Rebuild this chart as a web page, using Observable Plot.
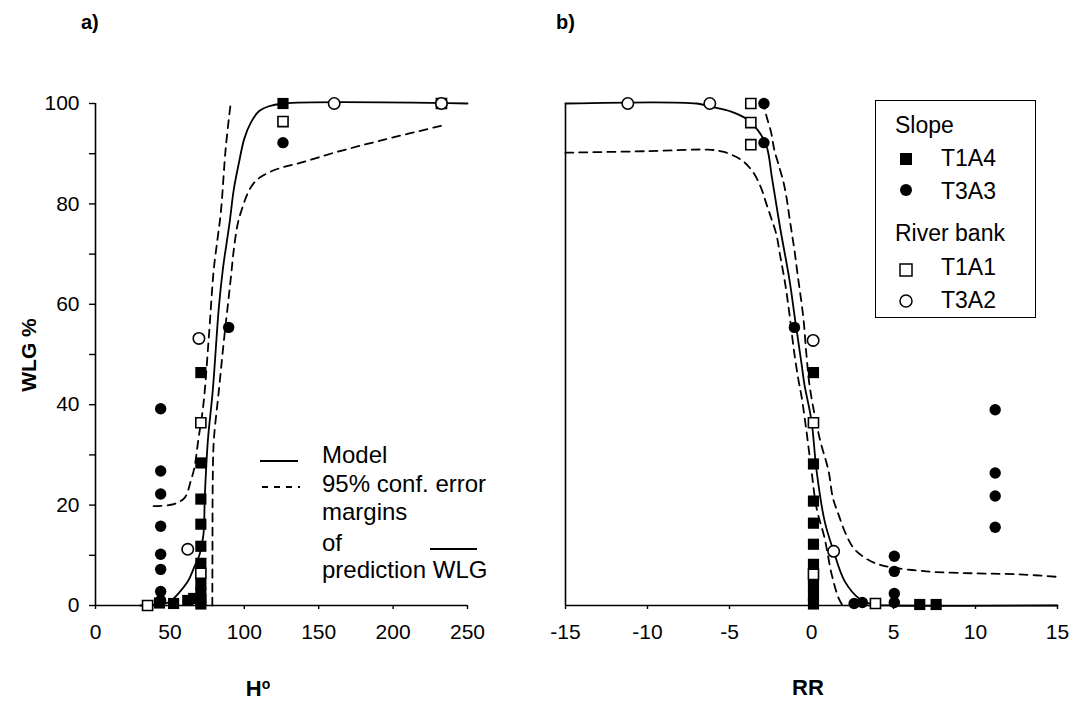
<!DOCTYPE html>
<html><head><meta charset="utf-8">
<script src="https://cdn.jsdelivr.net/npm/d3@7"></script>
<script src="https://cdn.jsdelivr.net/npm/@observablehq/plot@0.6"></script>
<style>
body{margin:0;background:#fff;font-family:Arial,"Liberation Sans",sans-serif;color:#000;}
#wrap{position:relative;width:1087px;height:703px;overflow:hidden;background:#fff;}
.pl{position:absolute;top:0;}
.t{position:absolute;white-space:nowrap;line-height:1;}
.b{font-weight:bold;}
.lg{font-size:23px;}
#boxB{position:absolute;left:875px;top:100px;width:161px;height:218px;border:1.5px solid #000;box-sizing:border-box;}
svg.mk{position:absolute;overflow:visible;}
</style>
</head><body>
<div id="wrap"></div>
<script>
// ---------- Panel a) : H° vs WLG % ----------
const xTicksA = [0, 50, 100, 150, 200, 250];
const yMajor = [0, 20, 40, 60, 80, 100];
const yMinor = [10, 30, 50, 70, 90];
const xTicksB = [-15, -10, -5, 0, 5, 10, 15];

// model curve
const modelA_H = [30, 45, 50, 62, 66, 70, 72.5, 73.5, 75.5, 78.8, 82.9, 85.6, 88, 90, 93, 96.4, 100, 104.4, 110, 116, 126, 250];
const modelA_W = [0, 0.3, 0.8, 4.8, 7.4, 10.2, 14, 22, 32.8, 42.8, 59.4, 67, 72, 76, 83, 88.2, 93, 96.2, 98.5, 99.4, 100, 100];
// upper 95% margin
const upA_H = [39, 52.6, 60, 64, 66.5, 69, 72.5, 76, 79.5, 82, 84.2, 87.6, 91];
const upA_W = [19.8, 20.2, 21.5, 24.8, 27.5, 32.8, 40, 52.8, 67, 73, 78.2, 91.4, 100.4];
// lower 95% margin
const loA_H = [78.5, 78.6, 78.8, 79.5, 82.9, 86.3, 89, 91, 93, 95.7, 99, 102.4, 106, 111.2, 122.6, 138, 160.4, 194, 233];
const loA_W = [0, 10, 24.8, 32.8, 42.8, 52.8, 60, 65.4, 71, 76.2, 79.5, 82.2, 84, 85.4, 87, 88.2, 90.2, 92.8, 95.6];

// points panel a
const aT1A4_H = [70.8, 70.8, 70.8, 70.8, 70.8, 70.8, 70.8, 70.8, 70.8, 70.8, 43, 52.5, 62, 66, 126];
const aT1A4_W = [46.4, 28.4, 21.2, 16.2, 11.8, 8.4, 4.2, 2.5, 1.2, 0.3, 0.5, 0.4, 1, 1.4, 100];
const aT3A3_H = [43.8, 43.8, 43.8, 43.8, 43.8, 43.8, 43.8, 43.8, 89.5, 126];
const aT3A3_W = [39.2, 26.8, 22.2, 15.8, 10.2, 7.2, 2.8, 1.0, 55.4, 92.2];
const aT1A1_H = [35, 70.8, 70.8, 126, 232.5];
const aT1A1_W = [0, 36.4, 6.4, 96.4, 100];
const aT3A2_H = [62, 69.5, 160.4, 232.5];
const aT3A2_W = [11.2, 53.2, 100, 100];

// ---------- Panel b) : RR vs WLG % ----------
const modelB_R = [-15, -7, -6.2, -4.9, -4.1, -3.3, -2.75, -2.4, -1.9, -1.35, -0.98, -0.6, -0.43, 0, 0.31, 0.8, 1.35, 2.03, 2.9, 3.7, 5, 15];
const modelB_W = [100, 100, 99.4, 98.4, 97.2, 94.8, 91.6, 85, 75, 65, 56.5, 48, 44, 36.8, 26.8, 16.8, 10.8, 4.8, 1.4, 0.2, 0, 0];
const loB_R = [-15, -10, -6.3, -5.4, -4.3, -3.6, -3.1, -2.77, -2.46, -2.15, -1.9, -1.6, -1.35, -1.07, -0.8, -0.6, -0.31, 0, 0.31, 0.8, 1.23, 1.66, 1.9];
const loB_W = [90.2, 90.5, 90.8, 90.4, 88.8, 86.5, 83.4, 80.2, 77.2, 74, 69.5, 64, 58.2, 50.8, 45, 41.5, 34.8, 26.8, 19.4, 13.4, 6.2, 1.4, 0];
const upB_R = [-2.95, -2.77, -2.46, -2.27, -1.97, -1.7, -1.5, -1.35, -1.2, -1.04, -0.85, -0.5, -0.31, -0.1, 0.49, 1.04, 1.3, 1.66, 2.1, 2.6, 3.4, 4.3, 7, 10, 12.7, 15];
const upB_W = [100.5, 97.8, 94.2, 90.8, 87.4, 84.2, 80.8, 77.4, 74.2, 70.8, 66, 57.4, 50, 43.4, 33.4, 26.8, 21.5, 18, 14.2, 11.3, 9.2, 8, 6.8, 6.4, 6.2, 5.7];

const bT1A4_R = [0.12, 0.12, 0.12, 0.12, 0.12, 0.12, 0.12, 0.12, 0.12, 6.6, 7.6];
const bT1A4_W = [46.4, 28.2, 20.8, 16.4, 12.2, 8.2, 4, 2, 0.3, 0.2, 0.2];
const bT3A3_R = [-2.9, -2.9, -1.04, 11.2, 11.2, 11.2, 11.2, 5.05, 5.05, 5.05, 5.05, 2.6, 3.1];
const bT3A3_W = [100, 92.2, 55.4, 39, 26.4, 21.8, 15.6, 9.8, 6.8, 2.4, 0.6, 0.4, 0.6];
const bT1A1_R = [-3.7, -3.7, -3.7, 0.12, 0.12, 3.9];
const bT1A1_W = [100, 96.2, 91.8, 36.4, 6.2, 0.4];
const bT3A2_R = [-11.2, -6.2, 0.1, 1.35];
const bT3A2_W = [100, 100, 52.8, 10.8];

const pts = (xs, ys) => xs.map((x, i) => ({x, y: ys[i]}));
const FONT = "Arial, 'Liberation Sans', sans-serif";
const dash = "8,6";
const SW = 1.8;

function markers(sets) {
  return [
    Plot.dot(pts(...sets.fsq), {x: "x", y: "y", symbol: "square", r: 6.3, fill: "#000"}),
    Plot.dot(pts(...sets.fci), {x: "x", y: "y", symbol: "circle", r: 5.7, fill: "#000"}),
    Plot.dot(pts(...sets.osq), {x: "x", y: "y", symbol: "square", r: 5.7, fill: "#fff", stroke: "#000", strokeWidth: 1.6}),
    Plot.dot(pts(...sets.oci), {x: "x", y: "y", symbol: "circle", r: 5.7, fill: "#fff", stroke: "#000", strokeWidth: 1.6})
  ];
}

const plotA = Plot.plot({
  width: 520, height: 703,
  marginLeft: 95, marginRight: 53, marginTop: 103, marginBottom: 98,
  x: {domain: [0, 250]},
  y: {domain: [0, 100]},
  style: {fontFamily: FONT, fontSize: "21px", color: "#000", background: "transparent", overflow: "visible"},
  marks: [
    Plot.axisX({ticks: xTicksA, tickSize: 4, tickPadding: 15, label: null, tickFormat: d => String(d), strokeWidth: 1.4}),
    Plot.axisY({ticks: yMajor, tickSize: 6, tickPadding: 10, label: null, tickFormat: d => String(d), strokeWidth: 1.4}),
    Plot.axisY({ticks: yMinor, tickSize: 6, label: null, tickFormat: () => "", strokeWidth: 1.4}),
    Plot.ruleX([0], {strokeWidth: 1.6}),
    Plot.ruleY([0], {strokeWidth: 1.6}),
    Plot.line(pts(upA_H, upA_W), {x: "x", y: "y", stroke: "#000", strokeWidth: SW, strokeDasharray: dash, curve: "catmull-rom"}),
    Plot.line(pts(loA_H, loA_W), {x: "x", y: "y", stroke: "#000", strokeWidth: SW, strokeDasharray: dash, curve: "catmull-rom"}),
    Plot.line(pts(modelA_H, modelA_W), {x: "x", y: "y", stroke: "#000", strokeWidth: SW, curve: "catmull-rom"}),
    ...markers({fsq: [aT1A4_H, aT1A4_W], fci: [aT3A3_H, aT3A3_W], osq: [aT1A1_H, aT1A1_W], oci: [aT3A2_H, aT3A2_W]})
  ]
});

const plotB = Plot.plot({
  width: 567, height: 703,
  marginLeft: 45, marginRight: 30, marginTop: 103, marginBottom: 98,
  x: {domain: [-15, 15]},
  y: {domain: [0, 100], axis: null},
  style: {fontFamily: FONT, fontSize: "21px", color: "#000", background: "transparent", overflow: "visible"},
  marks: [
    Plot.axisX({ticks: xTicksB, tickSize: 4, tickPadding: 15, label: null, tickFormat: d => String(d), strokeWidth: 1.4}),
    Plot.ruleX([-15], {strokeWidth: 1.6}),
    Plot.ruleY([0], {strokeWidth: 1.6}),
    Plot.line(pts(loB_R, loB_W), {x: "x", y: "y", stroke: "#000", strokeWidth: SW, strokeDasharray: dash, curve: "catmull-rom"}),
    Plot.line(pts(upB_R, upB_W), {x: "x", y: "y", stroke: "#000", strokeWidth: SW, strokeDasharray: dash, curve: "catmull-rom"}),
    Plot.line(pts(modelB_R, modelB_W), {x: "x", y: "y", stroke: "#000", strokeWidth: SW, curve: "catmull-rom"}),
    ...markers({fsq: [bT1A4_R, bT1A4_W], fci: [bT3A3_R, bT3A3_W], osq: [bT1A1_R, bT1A1_W], oci: [bT3A2_R, bT3A2_W]})
  ]
});

const wrap = document.getElementById("wrap");
const dA = document.createElement("div"); dA.className = "pl"; dA.style.left = "0px"; dA.appendChild(plotA); wrap.appendChild(dA);
const dB = document.createElement("div"); dB.className = "pl"; dB.style.left = "520px"; dB.appendChild(plotB); wrap.appendChild(dB);

function txt(s, left, top, cls, extra) {
  const e = document.createElement("div");
  e.className = "t " + (cls || "");
  e.style.left = left + "px"; e.style.top = top + "px";
  if (extra) Object.assign(e.style, extra);
  e.innerHTML = s;
  wrap.appendChild(e);
  return e;
}
// panel labels & axis titles
txt("a)", 81, 12, "b", {fontSize: "20px"});
txt("b)", 556, 12, "b", {fontSize: "20px"});
txt("WLG %", 28, 355, "b", {fontSize: "21px", transform: "translate(-50%,-50%) rotate(-90deg)"});
txt("H<sup style='font-size:14px;vertical-align:7px'>o</sup>", 258, 688, "b", {fontSize: "22px", transform: "translate(-50%,-50%)"});
txt("RR", 808, 688, "b", {fontSize: "22px", transform: "translate(-50%,-50%)"});

// legend panel a
const NS = "http://www.w3.org/2000/svg";
function svgLine(x1, x2, y, dashed) {
  const s = document.createElementNS(NS, "svg");
  s.setAttribute("class", "mk"); s.setAttribute("width", 1); s.setAttribute("height", 1);
  s.style.left = "0px"; s.style.top = "0px";
  const l = document.createElementNS(NS, "line");
  l.setAttribute("x1", x1); l.setAttribute("x2", x2); l.setAttribute("y1", y); l.setAttribute("y2", y);
  l.setAttribute("stroke", "#000"); l.setAttribute("stroke-width", 1.8);
  if (dashed) l.setAttribute("stroke-dasharray", "6,6");
  s.appendChild(l); wrap.appendChild(s);
}
svgLine(260, 298, 461, false);
svgLine(262, 300, 487, true);
svgLine(430, 477, 549, false);
txt("Model", 322, 443, "lg", {fontSize: "24px"});
txt("95% conf. error", 322, 472, "lg", {fontSize: "24px"});
txt("margins", 322, 500, "lg", {fontSize: "24px"});
txt("of", 322, 531, "lg", {fontSize: "24px"});
txt("prediction WLG", 322, 558, "lg", {fontSize: "24px"});

// legend panel b
const box = document.createElement("div"); box.id = "boxB"; wrap.appendChild(box);
txt("Slope", 895, 114, "lg");
txt("T1A4", 941, 147, "lg");
txt("T3A3", 941, 180, "lg");
txt("River bank", 895, 222, "lg");
txt("T1A1", 941, 256, "lg");
txt("T3A2", 941, 289, "lg");
function mk(type, cx, cy) {
  const s = document.createElementNS(NS, "svg");
  s.setAttribute("class", "mk"); s.setAttribute("width", 1); s.setAttribute("height", 1);
  s.style.left = "0px"; s.style.top = "0px";
  let e;
  if (type.includes("sq")) {
    e = document.createElementNS(NS, "rect");
    e.setAttribute("x", cx - 6); e.setAttribute("y", cy - 6); e.setAttribute("width", 12); e.setAttribute("height", 12);
  } else {
    e = document.createElementNS(NS, "circle");
    e.setAttribute("cx", cx); e.setAttribute("cy", cy); e.setAttribute("r", 6);
  }
  if (type[0] === "f") e.setAttribute("fill", "#000");
  else { e.setAttribute("fill", "#fff"); e.setAttribute("stroke", "#000"); e.setAttribute("stroke-width", 1.5); }
  s.appendChild(e); wrap.appendChild(s);
}
mk("fsq", 906, 159);
mk("fci", 906, 190);
mk("osq", 906, 270);
mk("oci", 906, 301);
</script>
</body></html>
